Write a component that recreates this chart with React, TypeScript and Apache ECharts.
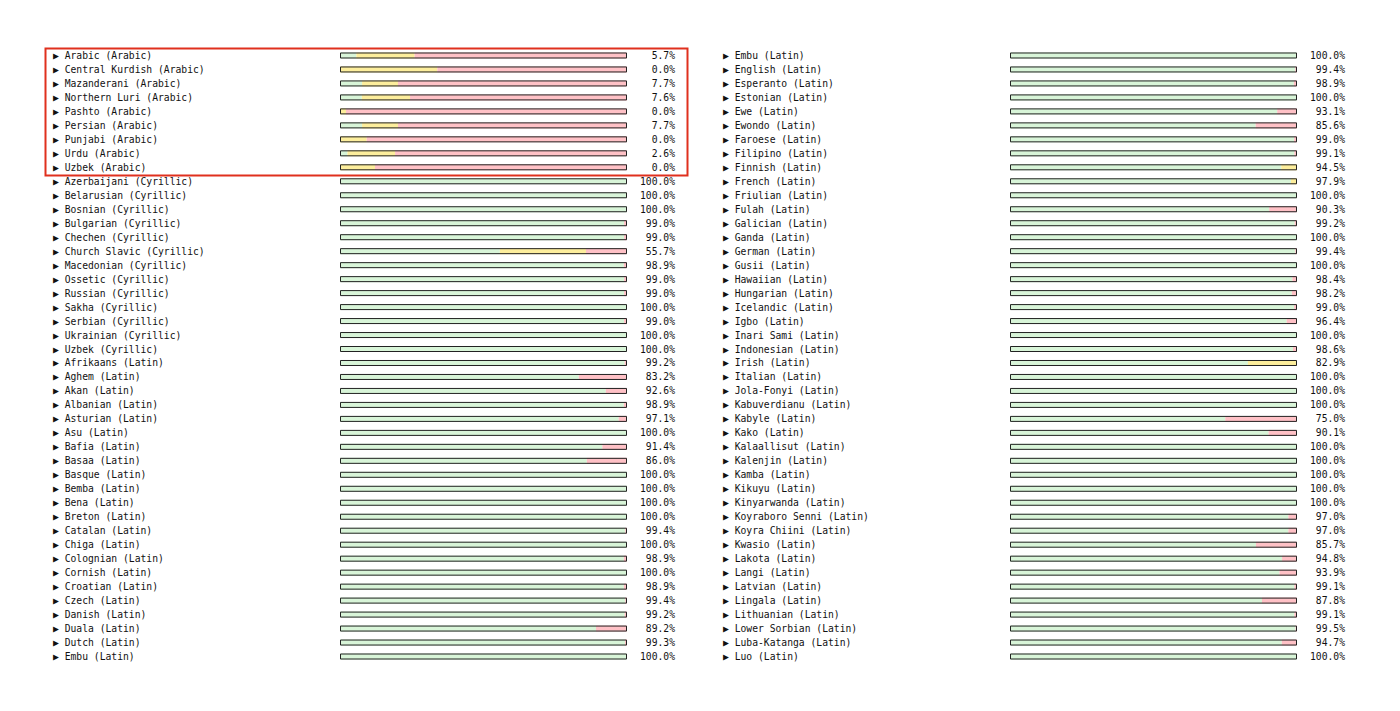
import React, { useEffect, useRef } from "react";
import * as echarts from "echarts";

const leftNames = [
  "Arabic (Arabic)", "Central Kurdish (Arabic)", "Mazanderani (Arabic)", "Northern Luri (Arabic)",
  "Pashto (Arabic)", "Persian (Arabic)", "Punjabi (Arabic)", "Urdu (Arabic)", "Uzbek (Arabic)",
  "Azerbaijani (Cyrillic)", "Belarusian (Cyrillic)", "Bosnian (Cyrillic)", "Bulgarian (Cyrillic)",
  "Chechen (Cyrillic)", "Church Slavic (Cyrillic)", "Macedonian (Cyrillic)", "Ossetic (Cyrillic)",
  "Russian (Cyrillic)", "Sakha (Cyrillic)", "Serbian (Cyrillic)", "Ukrainian (Cyrillic)", "Uzbek (Cyrillic)",
  "Afrikaans (Latin)", "Aghem (Latin)", "Akan (Latin)", "Albanian (Latin)", "Asturian (Latin)",
  "Asu (Latin)", "Bafia (Latin)", "Basaa (Latin)", "Basque (Latin)", "Bemba (Latin)", "Bena (Latin)",
  "Breton (Latin)", "Catalan (Latin)", "Chiga (Latin)", "Colognian (Latin)", "Cornish (Latin)",
  "Croatian (Latin)", "Czech (Latin)", "Danish (Latin)", "Duala (Latin)", "Dutch (Latin)", "Embu (Latin)",
];
const leftPass = [
  5.7, 0.0, 7.7, 7.6, 0.0, 7.7, 0.0, 2.6, 0.0,
  100, 100, 100, 99.0, 99.0, 55.7, 98.9, 99.0, 99.0, 100, 99.0, 100, 100,
  99.2, 83.2, 92.6, 98.9, 97.1, 100, 91.4, 86.0, 100, 100, 100, 100, 99.4, 100, 98.9, 100,
  98.9, 99.4, 99.2, 89.2, 99.3, 100,
];
const leftWarn = [
  20.3, 33.9, 12.5, 16.8, 2.1, 12.5, 9.3, 16.6, 12.2,
  0, 0, 0, 0, 0, 30.0, 0, 0, 0, 0, 0, 0, 0,
  0, 0, 0, 0, 0, 0, 0, 0, 0, 0, 0, 0, 0, 0, 0, 0,
  0, 0, 0, 0, 0, 0,
];

const rightNames = [
  "Embu (Latin)", "English (Latin)", "Esperanto (Latin)", "Estonian (Latin)", "Ewe (Latin)",
  "Ewondo (Latin)", "Faroese (Latin)", "Filipino (Latin)", "Finnish (Latin)", "French (Latin)",
  "Friulian (Latin)", "Fulah (Latin)", "Galician (Latin)", "Ganda (Latin)", "German (Latin)",
  "Gusii (Latin)", "Hawaiian (Latin)", "Hungarian (Latin)", "Icelandic (Latin)", "Igbo (Latin)",
  "Inari Sami (Latin)", "Indonesian (Latin)", "Irish (Latin)", "Italian (Latin)", "Jola-Fonyi (Latin)",
  "Kabuverdianu (Latin)", "Kabyle (Latin)", "Kako (Latin)", "Kalaallisut (Latin)", "Kalenjin (Latin)",
  "Kamba (Latin)", "Kikuyu (Latin)", "Kinyarwanda (Latin)", "Koyraboro Senni (Latin)",
  "Koyra Chiini (Latin)", "Kwasio (Latin)", "Lakota (Latin)", "Langi (Latin)", "Latvian (Latin)",
  "Lingala (Latin)", "Lithuanian (Latin)", "Lower Sorbian (Latin)", "Luba-Katanga (Latin)", "Luo (Latin)",
];
const rightPass = [
  100, 99.4, 98.9, 100, 93.1, 85.6, 99.0, 99.1, 94.5, 97.9,
  100, 90.3, 99.2, 100, 99.4, 100, 98.4, 98.2, 99.0, 96.4,
  100, 98.6, 82.9, 100, 100, 100, 75.0, 90.1, 100, 100,
  100, 100, 100, 97.0, 97.0, 85.7, 94.8, 93.9, 99.1, 87.8,
  99.1, 99.5, 94.7, 100,
];
const rightWarn = [
  0, 0, 0, 0, 0, 0, 0, 0, 5.5, 2.1,
  0, 0, 0, 0, 0, 0, 0, 0, 0, 0,
  0, 0, 17.1, 0, 0, 0, 0, 0, 0, 0,
  0, 0, 0, 0, 0, 0, 0, 0, 0, 0,
  0, 0, 0, 0,
];

const GREEN = "#d8f5d8";
const YELLOW = "#fdee9c";
const PINK = "#ffc1c6";
const FONT = "DejaVu Sans Mono";

function buildOption() {
  const cols = [
    { names: leftNames, pass: leftPass, warn: leftWarn, left: 340 },
    { names: rightNames, pass: rightPass, warn: rightWarn, left: 1010 },
  ];
  const grid: any[] = [];
  const xAxis: any[] = [];
  const yAxis: any[] = [];
  const series: any[] = [];
  cols.forEach((c, i) => {
    grid.push({ left: c.left, top: 48.5, width: 287, height: 615 });
    xAxis.push({ type: "value", gridIndex: i, min: 0, max: 100, show: false });
    yAxis.push({
      type: "category", gridIndex: i, inverse: true, position: "left",
      data: c.names.map((n) => "\u25B6 " + n),
      axisLine: { show: false }, axisTick: { show: false }, splitLine: { show: false },
      axisLabel: { align: "left", margin: 287, color: "#111", fontFamily: FONT, fontSize: 9.7, interval: 0 },
    });
    yAxis.push({
      type: "category", gridIndex: i, inverse: true, position: "right",
      data: c.pass.map((v) => v.toFixed(1) + "%"),
      axisLine: { show: false }, axisTick: { show: false }, splitLine: { show: false },
      axisLabel: { align: "right", margin: 48, color: "#111", fontFamily: FONT, fontSize: 9.7, interval: 0 },
    });
    const fail = c.pass.map((p, k) => Math.max(0, +(100 - p - c.warn[k]).toFixed(2)));
    const base = { type: "bar", xAxisIndex: i, yAxisIndex: i * 2, stack: "s" + i, barWidth: 6, silent: true };
    series.push({ ...base, name: "pass" + i, data: c.pass, itemStyle: { color: GREEN } });
    series.push({ ...base, name: "warn" + i, data: c.warn, itemStyle: { color: YELLOW } });
    series.push({ ...base, name: "fail" + i, data: fail, itemStyle: { color: PINK } });
    series.push({
      type: "bar", xAxisIndex: i, yAxisIndex: i * 2, barWidth: 6, barGap: "-100%", silent: true, z: 5,
      name: "frame" + i, data: c.names.map(() => 100),
      itemStyle: { color: "rgba(0,0,0,0)", borderColor: "#222", borderWidth: 1 },
    });
  });
  return {
    animation: false,
    backgroundColor: "#ffffff",
    grid, xAxis, yAxis, series,
    graphic: [
      {
        type: "rect", left: 43, top: 46, silent: true,
        shape: { width: 642, height: 127 },
        style: { fill: "none", stroke: "#e0301e", lineWidth: 2 },
      },
    ],
  };
}

export default function App() {
  const ref = useRef<HTMLDivElement>(null);
  useEffect(() => {
    if (!ref.current) return;
    const chart = echarts.init(ref.current, undefined, { renderer: "svg" });
    chart.setOption(buildOption());
    return () => chart.dispose();
  }, []);
  return <div ref={ref} style={{ position: "fixed", left: 0, top: 0, width: 1400, height: 711 }} />;
}
